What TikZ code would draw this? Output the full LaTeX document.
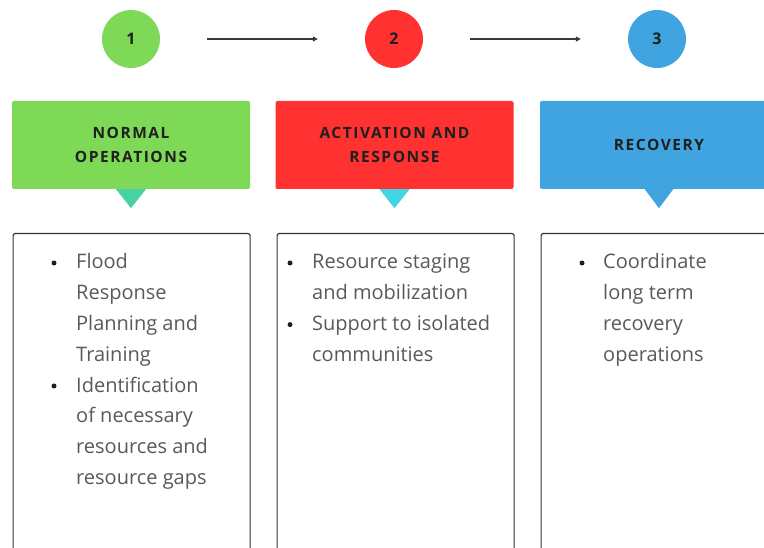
\documentclass[tikz,border=0pt]{standalone}
\usepackage{fontspec}
\setmainfont{Open Sans}
\newfontfamily\headfont[LetterSpace=10]{Open Sans}
\usetikzlibrary{arrows.meta}

\definecolor{stepgreen}{HTML}{7ED957}
\definecolor{stepred}{HTML}{FF3131}
\definecolor{stepblue}{HTML}{3FA4DF}
\definecolor{tealtip}{HTML}{48D1A2}
\definecolor{cyantip}{HTML}{42D5E4}
\definecolor{bodygray}{HTML}{595959}
\definecolor{inkdark}{HTML}{1F1F1F}
\definecolor{panelgray}{HTML}{333333}
\definecolor{arrowgray}{HTML}{3A3A3A}

\tikzset{
  num/.style={circle, minimum size=58pt, inner sep=0pt, text=inkdark,
    font=\bfseries\fontsize{16}{16}\selectfont},
  head/.style={rounded corners=2pt, minimum width=238pt, minimum height=88pt,
    inner sep=0pt, align=center, text=inkdark,
    font=\headfont\bfseries\fontsize{15.5}{23.5}\selectfont},
  panel/.style={draw=panelgray, line width=1.2pt, rounded corners=2pt,
    minimum width=237pt, minimum height=340pt, anchor=north west, inner sep=0pt},
  txtline/.style={anchor=base west, inner sep=0pt, text=bodygray,
    font=\fontsize{20}{24}\selectfont},
  bullet/.style={circle, fill=inkdark, inner sep=0pt, minimum size=5pt},
  flow/.style={draw=arrowgray, line width=1.3pt,
    -{Triangle[length=5pt,width=5pt]}, shorten <=47pt, shorten >=47pt},
}

\begin{document}
\begin{tikzpicture}[x=1pt, y=-1pt]
  \useasboundingbox (0,0) rectangle (764,548);
  \clip (0,0) rectangle (764,548);

  % step numbers and the arrows between them
  \node[num, fill=stepgreen] (c1) at (131,39) {1};
  \node[num, fill=stepred]   (c2) at (394,39) {2};
  \node[num, fill=stepblue]  (c3) at (657,39) {3};
  \draw[flow] (c1) -- (c2);
  \draw[flow] (c2) -- (c3);

  % phase headers with pointer tips
  \node[head, fill=stepgreen] (h1) at (131,145) {NORMAL\\OPERATIONS};
  \node[head, fill=stepred]   (h2) at (394.5,145) {ACTIVATION AND\\RESPONSE};
  \node[head, fill=stepblue]  (h3) at (659,145) {RECOVERY};
  \fill[tealtip] ([xshift=-15pt]h1.south) -- ([xshift=15pt]h1.south) -- ([yshift=-19pt]h1.south) -- cycle;
  \fill[cyantip] ([xshift=-15pt]h2.south) -- ([xshift=15pt]h2.south) -- ([yshift=-19pt]h2.south) -- cycle;
  \fill[stepblue] ([xshift=-15pt,yshift=1pt]h3.south) -- ([xshift=15pt,yshift=1pt]h3.south) -- ([yshift=-19pt]h3.south) -- cycle;

  % detail panels
  \node[panel] (p1) at (12.5,233) {};
  \node[panel] (p2) at (276.5,233) {};
  \node[panel] (p3) at (540.5,233) {};

  % panel 1
  \foreach \t [count=\k] in {Flood, Response, Planning and, Training,
      Identification, of necessary, resources and, resource gaps}
    \node[txtline] (a\k) at (76,{269+30.8*(\k-1)}) {\t};
  \node[bullet] (ba1) at (54,263) {};
  \node[bullet] (ba2) at (54,386) {};

  % panel 2
  \foreach \t [count=\k] in {Resource staging, and mobilization,
      Support to isolated, communities}
    \node[txtline] (b\k) at (312,{269+30.8*(\k-1)}) {\t};
  \node[bullet] (bb1) at (290,263) {};
  \node[bullet] (bb2) at (290,324.6) {};

  % panel 3
  \foreach \t [count=\k] in {Coordinate, long term, recovery, operations}
    \node[txtline] (d\k) at (603,{269+30.8*(\k-1)}) {\t};
  \node[bullet] (bd1) at (582,263) {};
\end{tikzpicture}
\end{document}
